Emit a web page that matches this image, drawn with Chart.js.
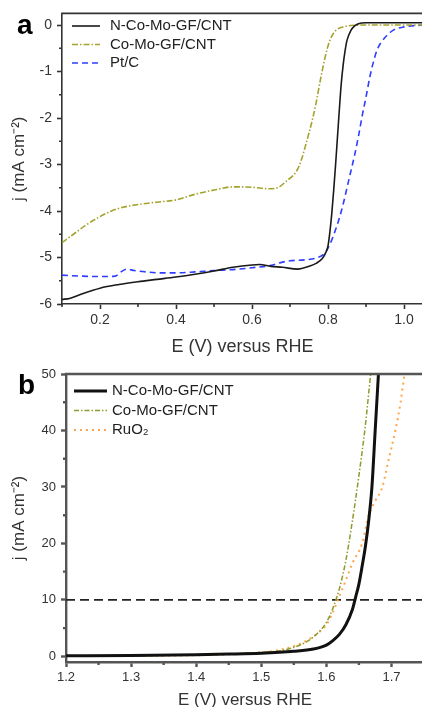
<!DOCTYPE html>
<html>
<head>
<meta charset="utf-8">
<script src="https://cdn.jsdelivr.net/npm/chart.js@4.4.0/dist/chart.umd.min.js"></script>
<style>
  body { margin: 0; width: 422px; height: 707px; overflow: hidden; position: relative; background: #fff; }
  canvas { position: absolute; left: 0; }
  .tag { position: absolute; font: bold 28px "Liberation Sans", Arial, sans-serif; line-height: 28px; color: #000; }
</style>
</head>
<body>
<canvas id="chartA" width="423" height="356" style="top:0"></canvas>
<canvas id="chartB" width="424" height="353" style="top:356px"></canvas>
<div class="tag" style="left:17px;top:11px">a</div>
<div class="tag" style="left:18px;top:371px">b</div>
<script>
// ---- panel a : ORR polarisation curves ----
const orrTicksX = [0.2, 0.4, 0.6, 0.8, 1.0];
const orrTicksY = [-6, -5, -4, -3, -2, -1, 0];

const ncmX = [0.10, 0.12, 0.15, 0.20, 0.25, 0.30, 0.35, 0.40, 0.45, 0.50, 0.55, 0.60, 0.62, 0.65, 0.68, 0.72, 0.75, 0.77, 0.785, 0.795, 0.80, 0.805, 0.81, 0.815, 0.82, 0.825, 0.83, 0.835, 0.84, 0.845, 0.85, 0.86, 0.87, 0.88, 0.90, 0.95, 1.05];
const ncmY = [-5.90, -5.88, -5.79, -5.66, -5.58, -5.52, -5.47, -5.42, -5.36, -5.29, -5.21, -5.16, -5.15, -5.19, -5.21, -5.25, -5.19, -5.12, -5.02, -4.88, -4.75, -4.45, -4.05, -3.55, -3.0, -2.4, -1.8, -1.25, -0.85, -0.55, -0.33, -0.12, -0.02, 0.03, 0.05, 0.05, 0.05];

const cmX = [0.10, 0.13, 0.16, 0.20, 0.23, 0.26, 0.30, 0.35, 0.40, 0.45, 0.50, 0.55, 0.60, 0.645, 0.67, 0.69, 0.71, 0.72, 0.73, 0.74, 0.75, 0.76, 0.77, 0.78, 0.79, 0.80, 0.81, 0.82, 0.84, 0.86, 0.90, 1.05];
const cmY = [-4.68, -4.50, -4.32, -4.12, -4.00, -3.92, -3.86, -3.81, -3.76, -3.64, -3.55, -3.48, -3.49, -3.52, -3.49, -3.36, -3.22, -3.10, -2.90, -2.62, -2.32, -2.00, -1.62, -1.18, -0.78, -0.45, -0.24, -0.12, -0.04, -0.01, 0.0, 0.0];

const ptX = [0.10, 0.15, 0.20, 0.24, 0.255, 0.27, 0.29, 0.32, 0.36, 0.40, 0.45, 0.50, 0.55, 0.60, 0.65, 0.68, 0.70, 0.74, 0.77, 0.79, 0.80, 0.81, 0.82, 0.83, 0.84, 0.85, 0.86, 0.87, 0.88, 0.89, 0.90, 0.91, 0.92, 0.93, 0.95, 0.97, 1.00, 1.05];
const ptY = [-5.38, -5.40, -5.41, -5.40, -5.31, -5.25, -5.28, -5.31, -5.33, -5.33, -5.31, -5.28, -5.26, -5.22, -5.17, -5.10, -5.07, -5.05, -5.01, -4.92, -4.80, -4.62, -4.40, -4.15, -3.85, -3.50, -3.15, -2.80, -2.40, -1.95, -1.55, -1.12, -0.78, -0.52, -0.27, -0.12, -0.04, 0.0];

// ---- panel b : OER polarisation curves ----
const oerTicksX = [1.2, 1.3, 1.4, 1.5, 1.6, 1.7];
const oerTicksY = [0, 10, 20, 30, 40, 50];
const refCurrent = 10;

const ncmbX = [1.20, 1.30, 1.40, 1.45, 1.50, 1.55, 1.58, 1.60, 1.61, 1.62, 1.63, 1.64, 1.645, 1.65, 1.655, 1.66, 1.665, 1.67, 1.675, 1.68];
const ncmbY = [0.1, 0.15, 0.3, 0.4, 0.55, 0.9, 1.3, 2.0, 2.8, 3.9, 5.6, 8.3, 10.5, 12.8, 16, 19.5, 24, 30, 40, 50];

const cmbX = [1.20, 1.30, 1.40, 1.50, 1.53, 1.55, 1.57, 1.59, 1.60, 1.61, 1.62, 1.63, 1.64, 1.65, 1.66, 1.668];
const cmbY = [0.05, 0.1, 0.3, 0.7, 1.0, 1.6, 2.6, 4.5, 6.0, 8.5, 12, 17, 24, 32, 41, 50];

const ruX = [1.20, 1.30, 1.40, 1.45, 1.50, 1.53, 1.55, 1.57, 1.59, 1.60, 1.61, 1.62, 1.63, 1.64, 1.655, 1.665, 1.675, 1.686, 1.696, 1.706, 1.714, 1.72];
const ruY = [0.05, 0.1, 0.2, 0.35, 0.7, 1.2, 1.8, 2.8, 4.4, 5.6, 7.8, 10.6, 13.5, 16.5, 20, 25, 27.5, 30, 35, 40, 45, 50];

const FONT = '"Liberation Sans", Arial, sans-serif';
Chart.defaults.font.family = FONT;

const pts = (xs, ys) => xs.map((x, i) => ({ x: x, y: ys[i] }));

// top frame line, minor ticks and an in-plot legend
const framePlugin = {
  id: 'frame',
  afterDraw(chart, args, opts) {
    const { ctx, chartArea, scales } = chart;
    ctx.save();
    ctx.strokeStyle = opts.color;
    ctx.lineWidth = opts.width;
    ctx.beginPath();
    ctx.moveTo(chartArea.left - opts.width / 2, chartArea.top);
    ctx.lineTo(chartArea.right, chartArea.top);
    opts.minorX.forEach(v => {
      const px = scales.x.getPixelForValue(v);
      ctx.moveTo(px, chartArea.bottom);
      ctx.lineTo(px, chartArea.bottom + opts.minorLen);
    });
    opts.minorY.forEach(v => {
      const py = scales.y.getPixelForValue(v);
      ctx.moveTo(chartArea.left, py);
      ctx.lineTo(chartArea.left - opts.minorLen, py);
    });
    ctx.stroke();

    // legend
    const lg = opts.legend;
    ctx.font = lg.size + 'px ' + FONT;
    ctx.textBaseline = 'middle';
    ctx.fillStyle = '#222';
    let row = 0;
    chart.data.datasets.forEach(ds => {
      if (ds.noLegend) return;
      const y = lg.y + row * lg.dy;
      ctx.strokeStyle = ds.borderColor;
      ctx.lineWidth = ds.borderWidth;
      ctx.setLineDash(ds.borderDash || []);
      ctx.beginPath();
      ctx.moveTo(lg.x, y);
      ctx.lineTo(lg.x + lg.len, y);
      ctx.stroke();
      ctx.setLineDash([]);
      ctx.fillText(ds.label, lg.textX, y);
      row++;
    });
    ctx.restore();
  }
};

const axisStyle = (color, width) => ({
  grid: { drawOnChartArea: false, drawTicks: true, tickLength: 5, tickWidth: width, tickColor: color },
  border: { display: true, color: color, width: width }
});

const lineDs = (label, data, color, width, dash) => ({
  label: label,
  data: data,
  borderColor: color,
  borderWidth: width,
  borderDash: dash,
  pointRadius: 0,
  fill: false,
  cubicInterpolationMode: 'monotone'
});

// ---- chart a ----
new Chart(document.getElementById('chartA'), {
  type: 'line',
  data: {
    datasets: [
      lineDs('N-Co-Mo-GF/CNT', pts(ncmX, ncmY), '#1a1a1a', 1.6, []),
      lineDs('Co-Mo-GF/CNT', pts(cmX, cmY), '#a3a32e', 1.6, [6, 2, 1.5, 2]),
      lineDs('Pt/C', pts(ptX, ptY), '#2f3dff', 1.6, [6, 4])
    ]
  },
  options: {
    responsive: false,
    animation: false,
    layout: { padding: { top: 12, left: 0, right: 0, bottom: 0 } },
    plugins: {
      legend: { display: false },
      tooltip: { enabled: false },
      frame: {
        color: '#333', width: 1.6, minorLen: 3,
        minorX: [0.1, 0.3, 0.5, 0.7, 0.9],
        minorY: [-5.5, -4.5, -3.5, -2.5, -1.5, -0.5],
        legend: { x: 72, len: 28, textX: 110, y: 26, dy: 18.5, size: 15 }
      }
    },
    scales: {
      x: {
        type: 'linear', min: 0.1, max: 1.05,
        ...axisStyle('#333', 1.6),
        afterBuildTicks: s => { s.ticks = orrTicksX.map(v => ({ value: v })); },
        afterFit: s => { s.height = 52; },
        ticks: { color: '#333', font: { size: 14 }, padding: 3, callback: v => v.toFixed(1) },
        title: { display: true, text: 'E (V) versus RHE', color: '#333', font: { size: 18, lineHeight: 1 }, padding: { top: 0, bottom: 0 } }
      },
      y: {
        type: 'linear', min: -6, max: 0.25,
        ...axisStyle('#333', 1.6),
        afterBuildTicks: s => { s.ticks = orrTicksY.map(v => ({ value: v })); },
        afterFit: s => { s.width = 62; },
        ticks: { color: '#333', font: { size: 14 }, padding: 5, callback: v => String(v) },
        title: { display: true, text: 'j (mA cm⁻²)', color: '#333', font: { size: 17, lineHeight: 1 }, padding: { top: 11, bottom: 0 } }
      }
    }
  },
  plugins: [framePlugin]
});

// ---- chart b ----
new Chart(document.getElementById('chartB'), {
  type: 'line',
  data: {
    datasets: [
      lineDs('N-Co-Mo-GF/CNT', pts(ncmbX, ncmbY), '#111', 3, []),
      lineDs('Co-Mo-GF/CNT', pts(cmbX, cmbY), '#8f9a2c', 1.5, [5, 2, 1.5, 2]),
      lineDs('RuO₂', pts(ruX, ruY), '#ffa54a', 2, [2, 4]),
      Object.assign(lineDs('10 mA', pts([1.2, 1.75], [refCurrent, refCurrent]), '#222', 1.6, [9, 5]), { noLegend: true })
    ]
  },
  options: {
    responsive: false,
    animation: false,
    layout: { padding: { top: 18, left: 0, right: 0, bottom: 0 } },
    plugins: {
      legend: { display: false },
      tooltip: { enabled: false },
      frame: {
        color: '#555', width: 2.4, minorLen: 3,
        minorX: [1.25, 1.35, 1.45, 1.55, 1.65, 1.75],
        minorY: [5, 15, 25, 35, 45],
        legend: { x: 74, len: 33, textX: 112, y: 35, dy: 19.5, size: 15 }
      }
    },
    scales: {
      x: {
        type: 'linear', min: 1.2, max: 1.75,
        ...axisStyle('#555', 2.4),
        afterBuildTicks: s => { s.ticks = oerTicksX.map(v => ({ value: v })); },
        afterFit: s => { s.height = 47; },
        ticks: { color: '#333', font: { size: 13 }, padding: 3, callback: v => v.toFixed(1) },
        title: { display: true, text: 'E (V) versus RHE', color: '#333', font: { size: 17, lineHeight: 1 }, padding: { top: 0, bottom: 0 } }
      },
      y: {
        type: 'linear', min: -1, max: 50,
        ...axisStyle('#555', 2.4),
        afterBuildTicks: s => { s.ticks = oerTicksY.map(v => ({ value: v })); },
        afterFit: s => { s.width = 66; },
        ticks: { color: '#333', font: { size: 13 }, padding: 5, callback: v => String(v) },
        title: { display: true, text: 'j (mA cm⁻²)', color: '#333', font: { size: 17, lineHeight: 1 }, padding: { top: 11, bottom: 0 } }
      }
    }
  },
  plugins: [framePlugin]
});
</script>
</body>
</html>
